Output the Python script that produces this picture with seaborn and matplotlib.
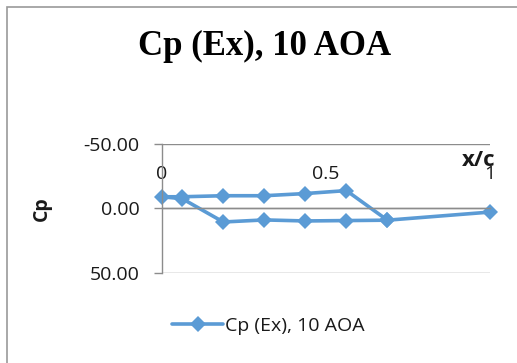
import matplotlib
matplotlib.use("Agg")
import matplotlib.pyplot as plt
from matplotlib.patches import Rectangle
import seaborn as sns
import pandas as pd

# Pressure-tap stations, traced trailing edge -> lower surface -> leading edge -> upper surface
x_over_c = [1.0, 0.6875, 0.5625, 0.4375, 0.3125, 0.1875, 0.0625, 0.0,
            0.0625, 0.1875, 0.3125, 0.4375, 0.5625, 0.6875]
cp_values = [2.9, 9.2, 9.5, 9.8, 9.0, 10.6, -7.5, -9.0,
             -9.0, -9.8, -9.8, -11.5, -13.8, 9.2]
series_name = "Cp (Ex), 10 AOA"
chart_title = "Cp (Ex), 10 AOA"
x_ticks = [0, 0.5, 1]
x_tick_labels = ["0", "0.5", "1"]
y_ticks = [-50, 0, 50]
y_tick_labels = ["-50.00", "0.00", "50.00"]

df = pd.DataFrame({"x/c": x_over_c, "Cp": cp_values})

sns.set_style("white")
plt.rcParams["font.family"] = ["Open Sans", "DejaVu Sans"]

blue = "#5B9BD5"
grid_grey = "#8c8c8c"
text_col = "#1a1a1a"

fig = plt.figure(figsize=(5.17, 3.63), dpi=100)
ax = fig.add_axes([0.3128, 0.2488, 0.635, 0.3545])

sns.lineplot(data=df, x="x/c", y="Cp", sort=False, estimator=None,
             marker="D", markersize=8, markeredgewidth=0, color=blue,
             linewidth=2.6, label=series_name, clip_on=False, ax=ax)

ax.set_xlim(0, 1)
ax.set_ylim(50, -50)

# horizontal gridlines, the zero line doubles as the category axis
ax.set_yticks(y_ticks)
ax.set_yticklabels(y_tick_labels)
ax.yaxis.grid(True, color=grid_grey, linewidth=1.0)
ax.xaxis.grid(False)
for side in ("top", "right"):
    ax.spines[side].set_visible(False)
ax.spines["left"].set_color(grid_grey)
ax.spines["left"].set_linewidth(1.0)
ax.spines["bottom"].set_position(("data", 0))
ax.spines["bottom"].set_color(grid_grey)
ax.spines["bottom"].set_linewidth(1.0)

ax.set_xticks(x_ticks)
ax.set_xticklabels(x_tick_labels)
ax.tick_params(axis="x", direction="in", length=6, width=1.0, color=grid_grey,
               pad=-31, labelsize=14, labelcolor=text_col)
ax.tick_params(axis="y", direction="out", length=6, width=1.0, color=grid_grey,
               pad=10, labelsize=14, labelcolor=text_col, left=True)

ax.set_xlabel("x/c", fontsize=16, fontweight="bold", color=text_col)
ax.xaxis.set_label_coords(0.965, 0.95)
ax.set_ylabel("Cp", fontsize=14, fontweight="bold", color=text_col)
ax.yaxis.set_label_coords(-0.334, 0.5)

ax.get_legend().remove()
fig.legend(*ax.get_legend_handles_labels(), loc="center",
           bbox_to_anchor=(0.519, 0.102), frameon=False, fontsize=14,
           handlelength=2.6, handletextpad=0.1, labelcolor=text_col)

fig.text(0.511, 0.8485, chart_title, ha="center", va="baseline",
         family="Liberation Serif", fontweight="bold", fontsize=25, color="#000000")

# chart-area border
fig.patches.append(Rectangle((7 / 517, -0.05), 1.1, 1 - 7 / 363 + 0.05,
                             transform=fig.transFigure, fill=False,
                             edgecolor="#9a9a9a", linewidth=1.2))

fig.savefig("out.png", dpi=100)
